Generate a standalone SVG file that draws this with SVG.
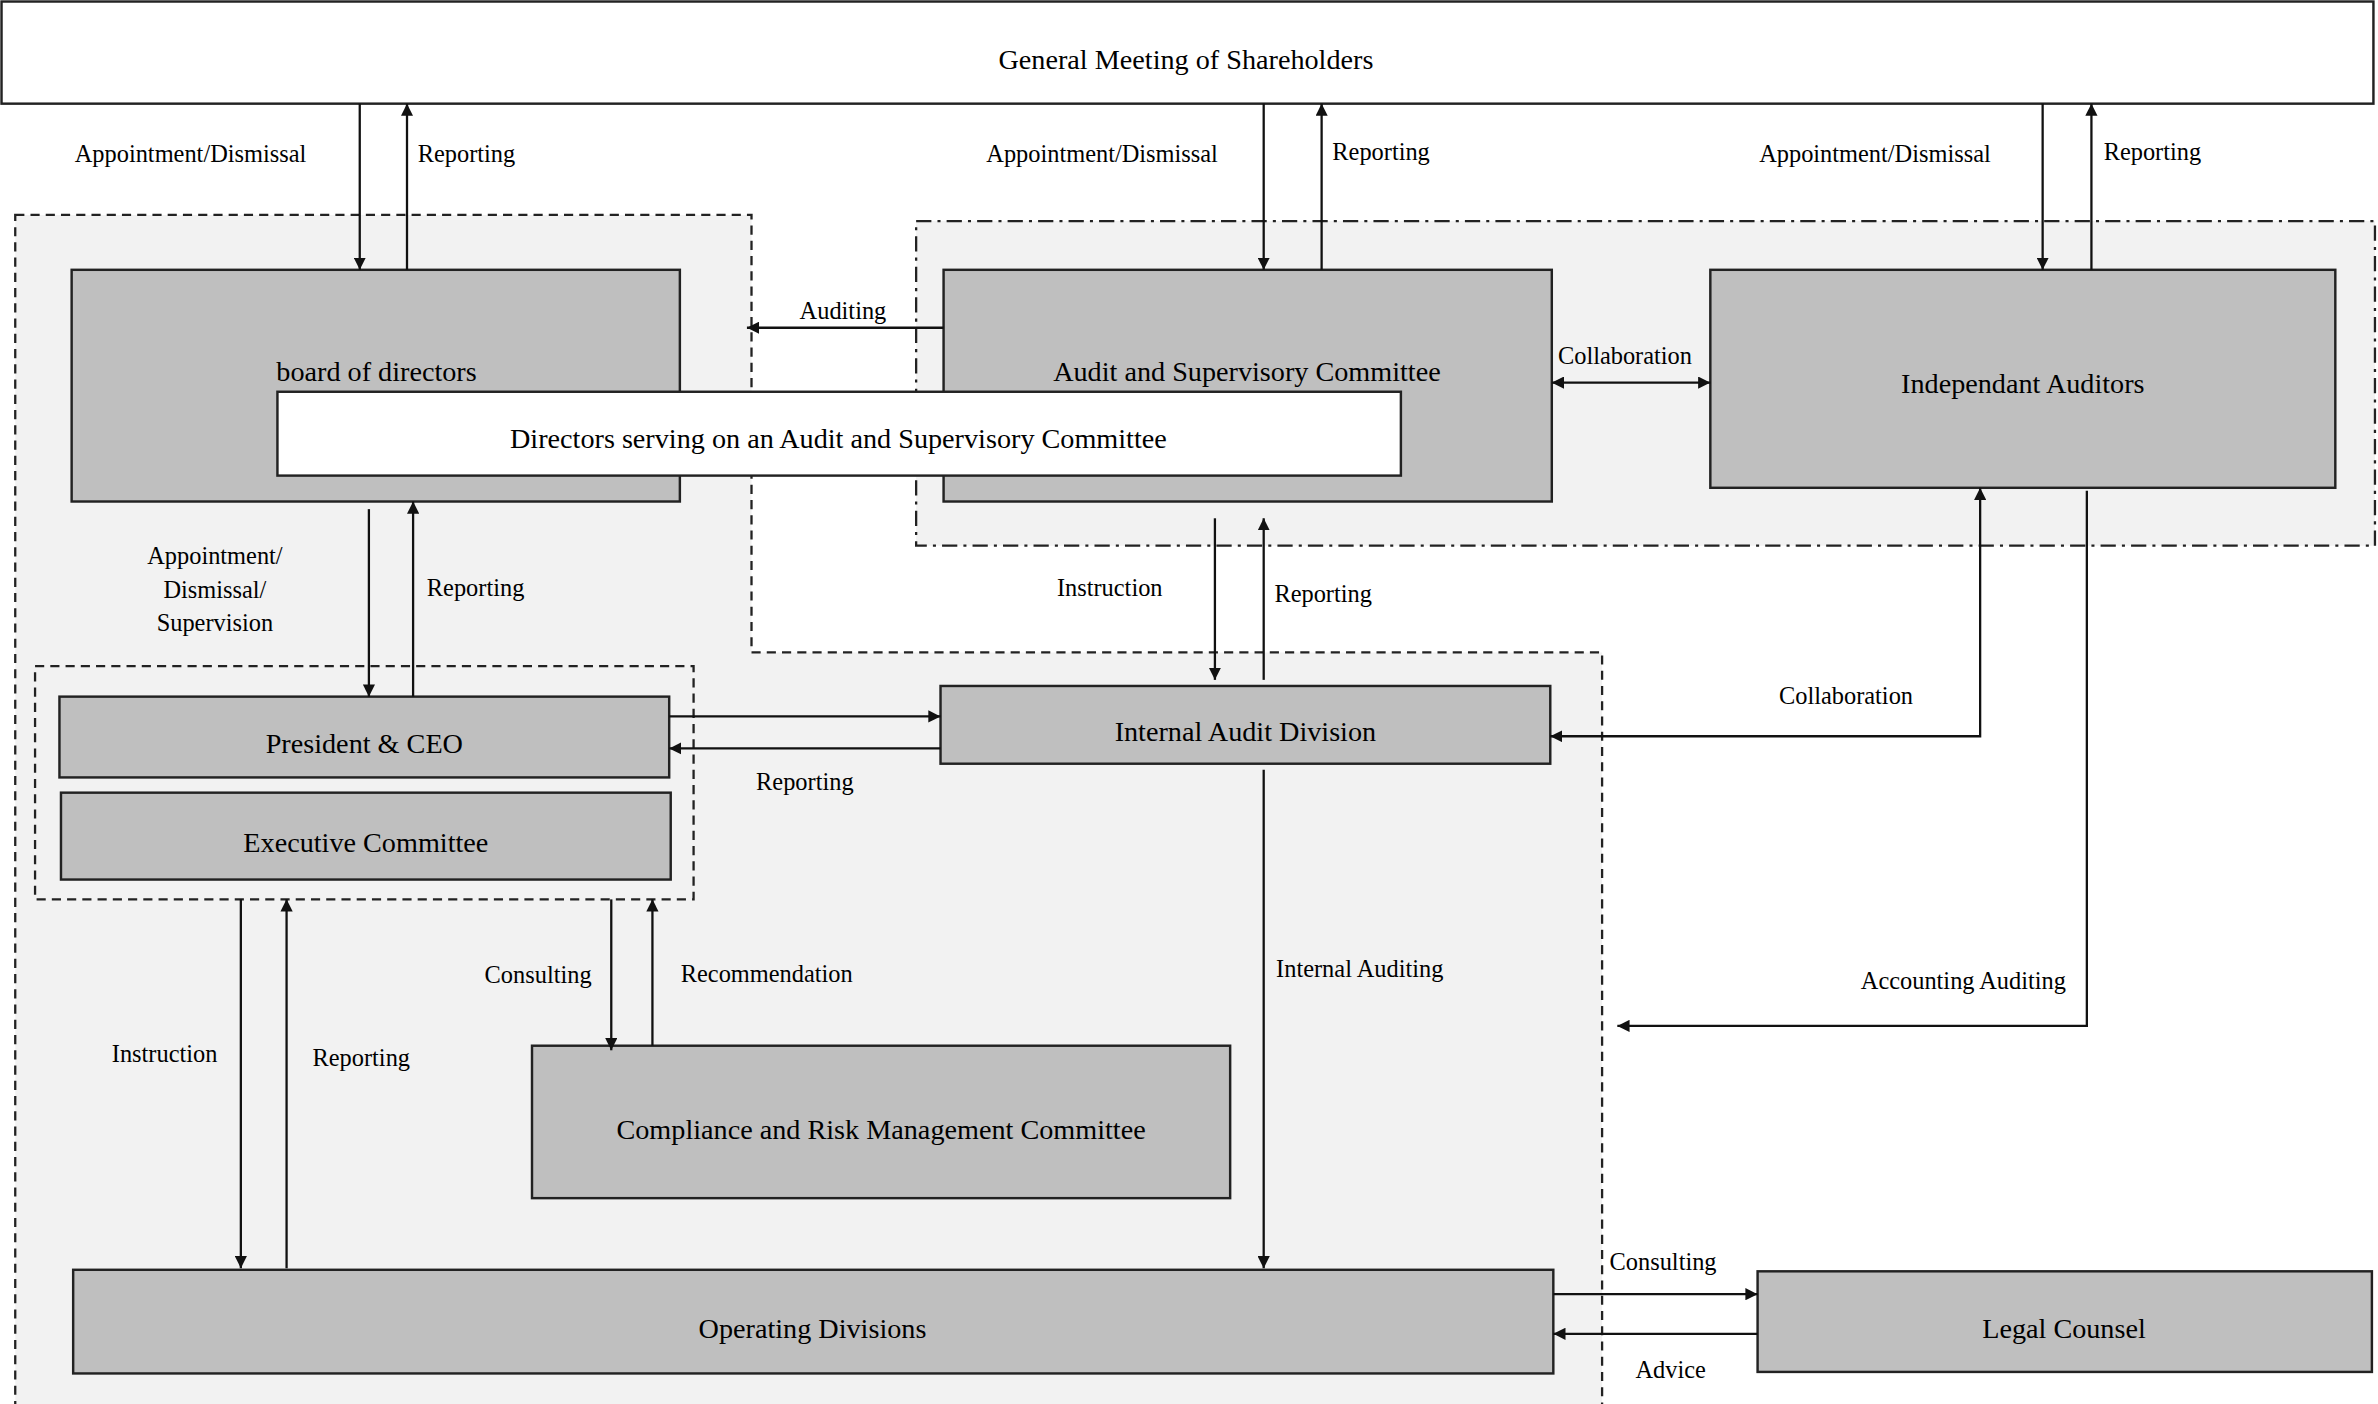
<svg xmlns="http://www.w3.org/2000/svg" width="2378" height="1404" viewBox="0 0 2378 1404">
<style>
text{font-family:"Liberation Serif","Times New Roman",serif;fill:#000;text-anchor:middle}
.b{font-size:18.5px}
.l{font-size:16px}
.box{fill:#bfbfbf;stroke:#222;stroke-width:1.6}
.w{fill:#fff;stroke:#222;stroke-width:1.6}
.c line,.c polyline{stroke:#111;stroke-width:1.5;fill:none}
</style>
<defs>
<marker id="a" viewBox="0 0 10 10" refX="10" refY="5" markerWidth="8" markerHeight="8" markerUnits="userSpaceOnUse" orient="auto-start-reverse"><path d="M0,0L10,5L0,10z" fill="#111"/></marker>
</defs>
<rect width="2378" height="1404" fill="#fff"/>
<g transform="scale(1.52436)">
<g id="regions">
<polygon points="10,141 493,141 493,428 1051,428 1051,922 10,922" fill="#f2f2f2" stroke="#222" stroke-width="1.5" stroke-dasharray="6,4"/>
<rect x="601" y="145" width="957" height="213" fill="#f2f2f2" stroke="#222" stroke-width="1.5" stroke-dasharray="10,4,2,4"/>
<rect x="23" y="437" width="432" height="153" fill="none" stroke="#222" stroke-width="1.5" stroke-dasharray="6,4"/>
</g>
<g id="gms"><rect class="w" x="1" y="1" width="1556" height="67"/><text class="b" x="778" y="45">General Meeting of Shareholders</text></g>
<g id="board"><rect class="box" x="47" y="177" width="399" height="152"/><text class="b" x="247" y="250">board of directors</text></g>
<g id="asc"><rect class="box" x="619" y="177" width="399" height="152"/><text class="b" x="818" y="250">Audit and Supervisory Committee</text></g>
<g id="ia"><rect class="box" x="1122" y="177" width="410" height="143"/><text class="b" x="1327" y="258">Independant Auditors</text></g>
<g id="dir"><rect class="w" x="182" y="257" width="737" height="55"/><text class="b" x="550" y="294">Directors serving on an Audit and Supervisory Committee</text></g>
<g id="ceo"><rect class="box" x="39" y="457" width="400" height="53"/><text class="b" x="239" y="494">President &amp; CEO</text></g>
<g id="exec"><rect class="box" x="40" y="520" width="400" height="57"/><text class="b" x="240" y="559">Executive Committee</text></g>
<g id="iad"><rect class="box" x="617" y="450" width="400" height="51"/><text class="b" x="817" y="486">Internal Audit Division</text></g>
<g id="crm"><rect class="box" x="349" y="686" width="458" height="100"/><text class="b" x="578" y="747">Compliance and Risk Management Committee</text></g>
<g id="ops"><rect class="box" x="48" y="833" width="971" height="68"/><text class="b" x="533" y="878">Operating Divisions</text></g>
<g id="legal"><rect class="box" x="1153" y="834" width="403" height="66"/><text class="b" x="1354" y="878">Legal Counsel</text></g>
<g id="connectors" class="c">
<line x1="236" y1="68" x2="236" y2="177" marker-end="url(#a)"/>
<line x1="267" y1="177" x2="267" y2="68" marker-end="url(#a)"/>
<line x1="829" y1="68" x2="829" y2="177" marker-end="url(#a)"/>
<line x1="867" y1="177" x2="867" y2="68" marker-end="url(#a)"/>
<line x1="1340" y1="68" x2="1340" y2="177" marker-end="url(#a)"/>
<line x1="1372" y1="177" x2="1372" y2="68" marker-end="url(#a)"/>
<line x1="619" y1="215" x2="490" y2="215" marker-end="url(#a)"/>
<line x1="1018" y1="251" x2="1122" y2="251" marker-start="url(#a)" marker-end="url(#a)"/>
<line x1="242" y1="334" x2="242" y2="457" marker-end="url(#a)"/>
<line x1="271" y1="457" x2="271" y2="329" marker-end="url(#a)"/>
<line x1="797" y1="340" x2="797" y2="446" marker-end="url(#a)"/>
<line x1="829" y1="446" x2="829" y2="340" marker-end="url(#a)"/>
<polyline points="1017,483 1299,483 1299,320" marker-start="url(#a)" marker-end="url(#a)"/>
<polyline points="1369,322 1369,673 1061,673" marker-end="url(#a)"/>
<line x1="439" y1="470" x2="617" y2="470" marker-end="url(#a)"/>
<line x1="617" y1="491" x2="439" y2="491" marker-end="url(#a)"/>
<line x1="829" y1="505" x2="829" y2="832" marker-end="url(#a)"/>
<line x1="401" y1="590" x2="401" y2="689" marker-end="url(#a)"/>
<line x1="428" y1="686" x2="428" y2="590" marker-end="url(#a)"/>
<line x1="158" y1="590" x2="158" y2="832" marker-end="url(#a)"/>
<line x1="188" y1="832" x2="188" y2="590" marker-end="url(#a)"/>
<line x1="1019" y1="849" x2="1153" y2="849" marker-end="url(#a)"/>
<line x1="1153" y1="875" x2="1019" y2="875" marker-end="url(#a)"/>
</g>
<g id="labels" class="l">
<text class="l" x="125" y="106">Appointment/Dismissal</text>
<text class="l" x="306" y="106">Reporting</text>
<text class="l" x="723" y="106">Appointment/Dismissal</text>
<text class="l" x="906" y="105">Reporting</text>
<text class="l" x="1230" y="106">Appointment/Dismissal</text>
<text class="l" x="1412" y="105">Reporting</text>
<text class="l" x="553" y="209">Auditing</text>
<text class="l" x="1066" y="239">Collaboration</text>
<text class="l" x="141" y="370">Appointment/</text>
<text class="l" x="141" y="392">Dismissal/</text>
<text class="l" x="141" y="414">Supervision</text>
<text class="l" x="312" y="391">Reporting</text>
<text class="l" x="728" y="391">Instruction</text>
<text class="l" x="868" y="395">Reporting</text>
<text class="l" x="1211" y="462">Collaboration</text>
<text class="l" x="1288" y="649">Accounting Auditing</text>
<text class="l" x="528" y="518">Reporting</text>
<text class="l" x="892" y="641">Internal Auditing</text>
<text class="l" x="353" y="645">Consulting</text>
<text class="l" x="503" y="644">Recommendation</text>
<text class="l" x="108" y="697">Instruction</text>
<text class="l" x="237" y="699">Reporting</text>
<text class="l" x="1091" y="833">Consulting</text>
<text class="l" x="1096" y="904">Advice</text>
</g>
</g>
</svg>
